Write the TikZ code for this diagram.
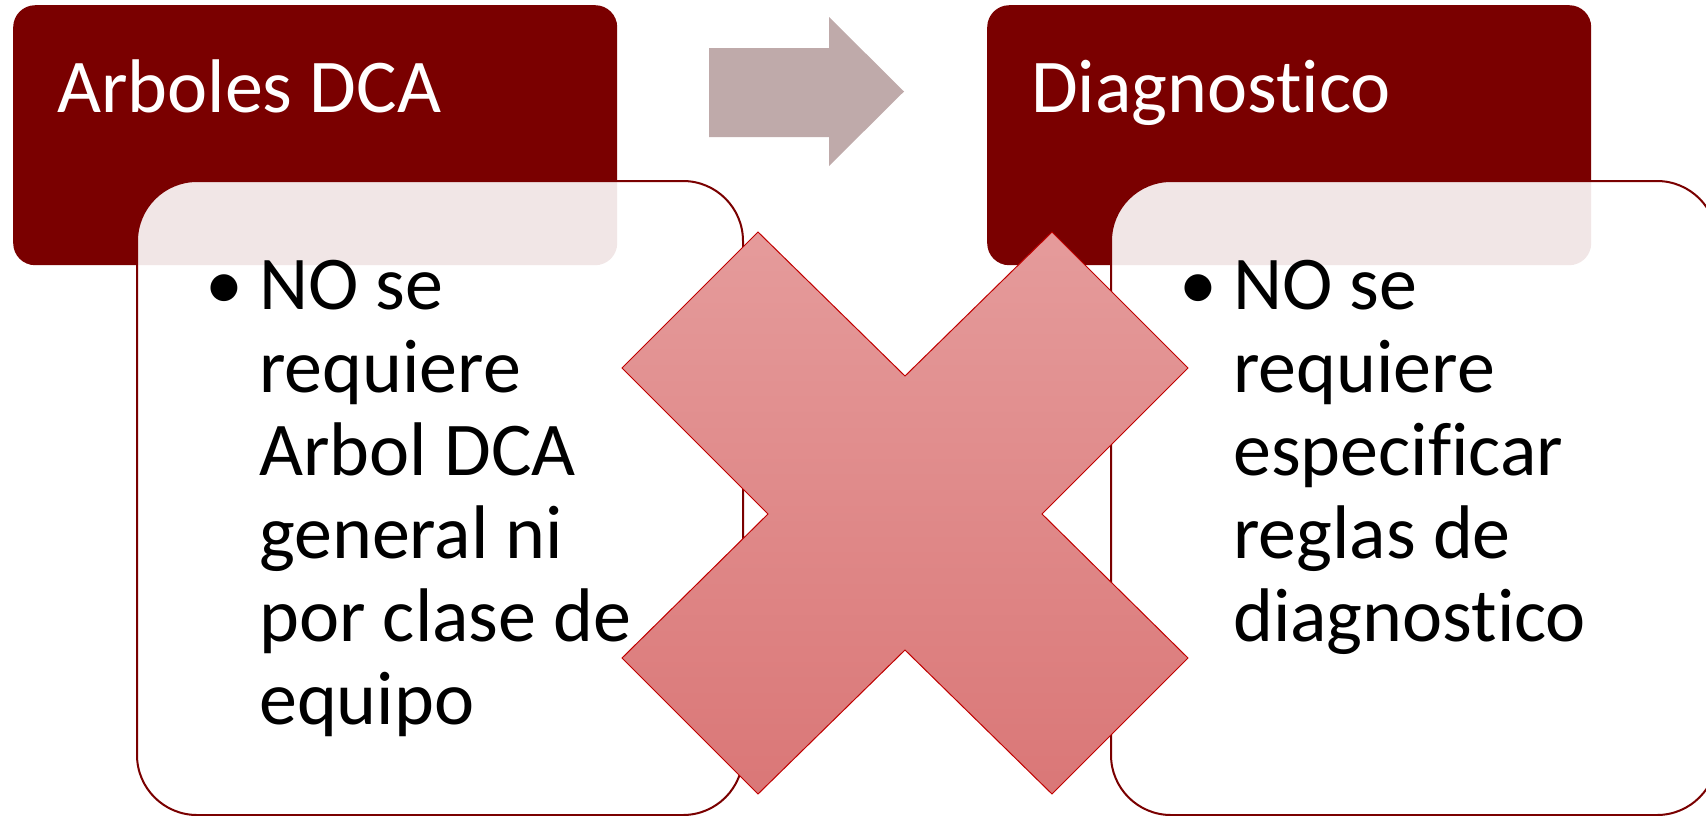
\documentclass[tikz,border=0pt]{standalone}
\usepackage{fontspec}
\setmainfont{Carlito}[Ligatures={NoCommon}]
\usepackage{tikz}
\definecolor{boxred}{RGB}{122,0,0}
\definecolor{arrowgray}{RGB}{191,170,170}
\definecolor{crosstop}{RGB}{229,155,155}
\definecolor{crossbot}{RGB}{218,119,119}
\definecolor{crossline}{RGB}{192,0,0}

\begin{document}
\begin{tikzpicture}[
		x=1pt, y=-1pt,
		titlebox/.style={fill=boxred, rounded corners=22pt, minimum width=604pt, minimum height=260pt, anchor=north west, inner sep=0pt},
		bodybox/.style={draw=boxred, line width=2pt, fill=white, fill opacity=0.9, rounded corners=60pt, minimum width=606pt, minimum height=634pt, anchor=north west, inner sep=0pt},
		titletext/.style={text=white, font=\fontsize{76}{90}\selectfont, anchor=base west, inner sep=0pt},
		bodytext/.style={text=black, font=\fontsize{76}{83}\selectfont, anchor=base west, inner sep=0pt}
		]
		\useasboundingbox (0,0) rectangle (1706,815);
		% left pair
		\node[titlebox] (dca) at (13,5) {};
		\node[bodybox] (dcabody) at (136,180) {};
		\node[titletext] (dcatitle) at (57,112) {Arboles DCA};
		\node[bodytext] (dcalist) at (205,309) {\begin{tabular}[t]{@{}l@{}l@{}}
				\makebox[54pt][l]{•} & NO se\\
				& requiere\\
				& Arbol DCA\\
				& general ni\\
				& por clase de\\
				& equipo
			\end{tabular}};
		% right pair
		\node[titlebox] (diag) at (987,5) {};
		\node[bodybox] (diagbody) at (1110,180) {};
		\node[titletext] (diagtitle) at (1031,112) {Diagnostico};
		\node[bodytext] (diaglist) at (1179,309) {\begin{tabular}[t]{@{}l@{}l@{}}
				\makebox[54pt][l]{•} & NO se\\
				& requiere\\
				& especificar\\
				& reglas de\\
				& diagnostico
			\end{tabular}};
		% arrow between
		\fill[arrowgray] (709,48) -- (829,48) -- (829,17) -- (904,91.5) -- (829,166)
			-- (829,137) -- (709,137) -- cycle;
		% the cross
		\path[draw=crossline, line width=1pt, top color=crosstop, bottom color=crossbot]
			(758,232) -- (905,376) -- (1052,232) -- (1188,368) -- (1042,514) -- (1188,658)
			-- (1052,794) -- (905,650) -- (758,794) -- (622,658) -- (768,514) -- (622,368) -- cycle;
	\end{tikzpicture}
\end{document}
